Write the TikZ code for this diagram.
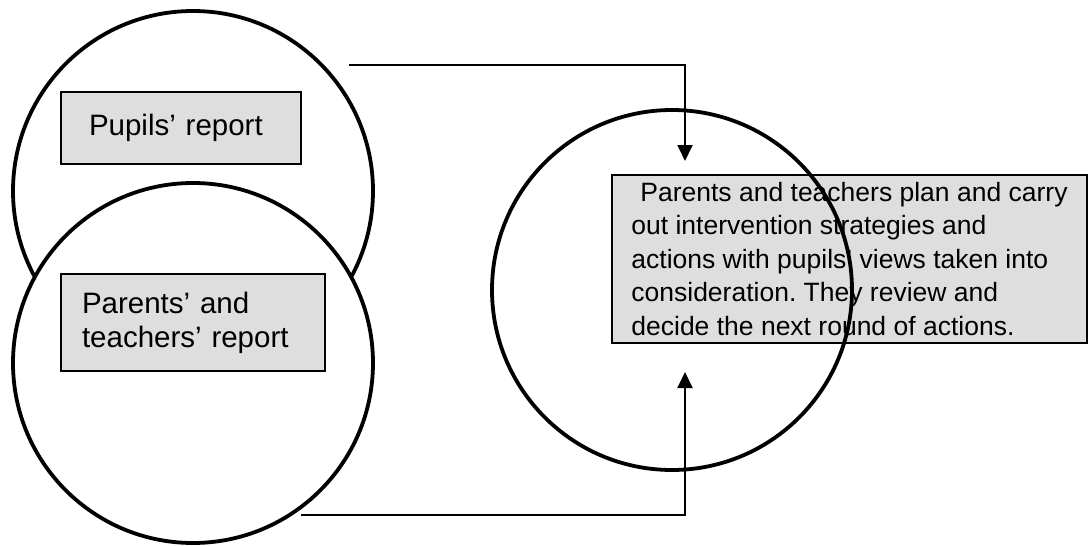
\documentclass[tikz,border=0pt]{standalone}
\usepackage{fontspec}
\setmainfont{Liberation Sans}
\frenchspacing
\usetikzlibrary{arrows.meta}
\tikzset{
  ring/.style={circle, draw=black, line width=3.8pt, inner sep=0pt, minimum size=360pt},
  repbox/.style={draw=black, line width=1.6pt, fill=black!13, rectangle, inner ysep=0pt, align=left},
  flow/.style={line width=1.9pt, -{Triangle[width=15pt,length=16pt]}}
}
\begin{document}
\begin{tikzpicture}[x=1pt,y=-1pt]
\useasboundingbox (0,0) rectangle (1088,546);
% left circles
\node[ring] (c1) at (193,191) {};
\node[ring, fill=white] (c2) at (193,363) {};
% report boxes
\node[repbox, minimum width=240pt, minimum height=72pt, text width=184pt, inner xsep=28pt,
      font=\fontsize{29.5}{34}\selectfont] (pupils) at (181,128) {Pupils’ report\vphantom{j}};
\node[repbox, minimum width=264pt, minimum height=97pt, text width=222pt, inner xsep=21pt,
      font=\fontsize{29.5}{34}\selectfont] (parents) at (193,322.5) {Parents’ and\\teachers’ report};
% right box and circle
\node[repbox, minimum width=475pt, minimum height=168pt, inner xsep=0pt,
      font=\fontsize{26.5}{33.5}\selectfont] (plan) at (849.5,259)
  {\hspace*{9pt}Parents and teachers plan and carry\\out intervention strategies and\\actions with pupils’ views taken into\\consideration. They review and\\decide the next round of actions.};
\node[ring] (c3) at (672,290) {};
% connectors
\coordinate (s1) at (349,65);
\coordinate (e1) at (685,161);
\coordinate (s2) at (301,515);
\coordinate (e2) at (685,372);
\draw[flow] (s1) -| (e1);
\draw[flow] (s2) -| (e2);
\end{tikzpicture}
\end{document}
